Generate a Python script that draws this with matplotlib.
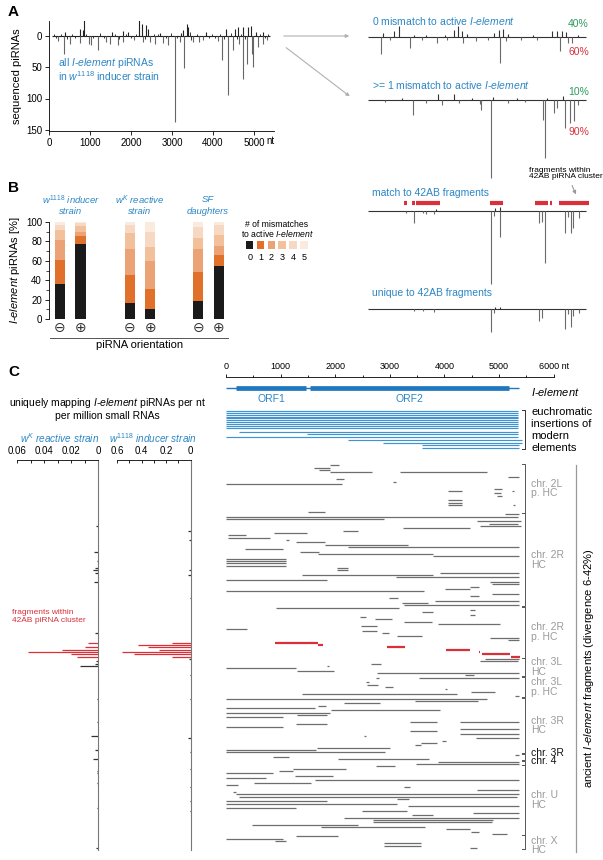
import matplotlib
matplotlib.use('Agg')
import matplotlib.pyplot as plt
import numpy as np
from matplotlib.lines import Line2D
from matplotlib.patches import FancyArrowPatch, Rectangle

plt.rcParams['font.family'] = ['Liberation Sans', 'DejaVu Sans']
plt.rcParams['mathtext.fontset'] = 'custom'
plt.rcParams['mathtext.rm'] = 'Liberation Sans'
plt.rcParams['mathtext.it'] = 'Liberation Sans:italic'
plt.rcParams['mathtext.bf'] = 'Liberation Sans:bold'

# ---------------- DATA ----------------
# Panel A, all I-element piRNAs (w1118): sense (up) / antisense (down)
A_sense_pos = [390, 756, 830, 854, 1527, 1794, 1927, 2195, 2260, 2366, 2415, 2703, 3230, 3268, 3358, 3390, 3840, 4326, 4537, 4610, 4732, 4853, 4919, 5049, 5219]
A_sense_val = [7, 11, 10, 26, 7, 8, 7, 25, 20, 18, 12, 5, 5, 10, 20, 15, 7, 12, 12, 15, 15, 14, 16, 7, 7]
A_anti_pos = [227, 366, 511, 750, 982, 1024, 1187, 1390, 1488, 1688, 1805, 2073, 2293, 2463, 2585, 2773, 2911, 3073, 3190, 3301, 3512, 3660, 3756, 4123, 4211, 4366, 4480, 4634, 4724, 4829, 4943, 4984, 5098, 5211, 5309]
A_anti_val = [8, 28, 12, 11, 12, 14, 23, 9, 12, 15, 9, 7, 9, 9, 12, 11, 14, 138, 10, 51, 9, 10, 6, 8, 38, 95, 22, 12, 68, 44, 28, 50, 17, 12, 7]
A_small_pos = [120, 180, 300, 450, 560, 640, 900, 1080, 1250, 1330, 1600, 1700, 1880, 2000, 2120, 2330, 2550, 2650, 2850, 2980, 3130, 3430, 3470, 3600, 3900, 3980, 4050, 4180, 4280, 4430, 4580, 4680, 4790, 5150, 5260, 5350]
A_small_val = [3, -3, 4, -4, 3, -3, 4, -3, 5, -3, 4, -4, 3, -3, 3, -4, 3, 4, -3, 5, -3, 6, -6, 4, -3, 3, -3, 4, -4, 5, -5, 4, -4, 3, -3, 3]

# Panel A, right tracks
T1_sense_pos = [447, 715, 829, 1200, 1500, 1950, 2170, 2276, 2374, 2500, 3150, 3268, 3358, 3500, 4100, 4553, 4675, 4797, 4902, 5200]
T1_sense_val = [6, 9, 18, 4, 4, 3, 11, 18, 10, 5, 6, 12, 13, 5, 3, 9, 9, 9, 8, 3]
T1_anti_pos = [382, 600, 1098, 1400, 1764, 2000, 2398, 2700, 3000, 3293, 3450, 3800, 4200, 4756, 4960, 5040]
T1_anti_val = [27, 5, 18, 4, 9, 5, 10, 6, 5, 42, 6, 4, 5, 23, 10, 9]
T2_sense_pos = [900, 1789, 2179, 2600, 3114, 3700, 4431, 4838]
T2_sense_val = [3, 9, 9, 3, 5, 3, 4, 6]
T2_anti_pos = [500, 1171, 1500, 1870, 2300, 2795, 2835, 3073, 3500, 3900, 4340, 4398, 4600, 4680, 4870, 4990, 5098, 5200]
T2_anti_val = [3, 24, 4, 8, 5, 6, 16, 125, 4, 3, 32, 93, 20, 12, 45, 37, 34, 8]
T3_red_start = [950, 1140, 1240, 3050, 4150, 4510, 4740]
T3_red_end = [1020, 1210, 1830, 3360, 4470, 4550, 5470]
T3_sense_pos = [1740, 3180, 3293]
T3_sense_val = [3, 5, 6]
T3_anti_pos = [1000, 1195, 1407, 1500, 1691, 3073, 3150, 3293, 4236, 4325, 4398, 4878, 4950, 5016, 5082, 5228]
T3_anti_val = [3, 20, 4, 5, 6, 117, 8, 42, 19, 18, 84, 35, 10, 35, 28, 12]
T4_sense_pos = [3180, 3293]
T4_sense_val = [3, 4]
T4_anti_pos = [1195, 1407, 1691, 3073, 3150, 4236, 4325, 4878, 4950, 5016, 5082, 5228]
T4_anti_val = [3, 3, 4, 37, 6, 19, 14, 32, 8, 28, 10, 6]

# Panel B: % of piRNAs by number of mismatches (bars: w1118 -, +, wK -, +, SF -, +)
mm0 = [36.4, 77.7, 17.0, 10.3, 18.6, 55.0]
mm1 = [24.1, 8.3, 28.7, 20.3, 29.9, 11.0]
mm2 = [21.3, 4.0, 26.3, 29.2, 23.5, 9.0]
mm3 = [10.2, 6.0, 16.7, 14.8, 12.0, 11.6]
mm4 = [5.0, 3.0, 7.9, 14.7, 11.0, 10.4]
mm5 = [3.0, 1.0, 3.4, 10.7, 5.0, 3.0]
B_pos = [0, 1, 3.4, 4.4, 6.75, 7.75]
B_orient = ['\u2296', '\u2295', '\u2296', '\u2295', '\u2296', '\u2295']

# Panel C, left: uniquely mapping piRNAs per row
wK_rows = [26, 37, 41, 44, 45, 46, 50, 72, 84, 85, 86, 100, 110, 116, 122, 126, 131, 132, 136, 147, 164]
wK_vals = [0.0017, 0.003, 0.001, 0.0025, 0.0037, 0.0025, 0.003, 0.0025, 0.0012, 0.002, 0.0136, 0.001, 0.001, 0.005, 0.002, 0.0037, 0.001, 0.001, 0.001, 0.001, 0.0015]
wK_red_rows = [76, 78, 79, 80, 81, 82]
wK_red_vals = [0.0074, 0.0099, 0.027, 0.052, 0.02, 0.0156]
w1118_rows = [28, 32, 45, 47, 57, 83, 90, 100, 117, 123, 130, 138, 144, 148]
w1118_vals = [0.019, 0.01, 0.01, 0.02, 0.008, 0.01, 0.008, 0.008, 0.02, 0.008, 0.008, 0.008, 0.008, 0.008]
w1118_red_rows = [76, 77, 78, 79, 80, 81, 82]
w1118_red_vals = [0.149, 0.43, 0.343, 0.254, 0.56, 0.46, 0.154]

# Panel C, right: I-element model
elem_len = 5370
orf_start = [190, 1540]
orf_end = [1470, 5180]
orf_names = ['ORF1', 'ORF2']
# euchromatic insertions
eu_rows = [-23.3, -22.6, -21.7, -20.9, -20.1, -19.3, -18.4, -17.6, -16.9, -16.0, -14.4, -13.3, -12.1, -10.7, -9.7, -8.7, -7.6]
eu_start = [0, 0, 0, 0, 0, 0, 0, 0, 0, 0, 238, 1483, 0, 2234, 2875, 3590, 3590]
eu_end = [5348, 5348, 5348, 5348, 5348, 5348, 5348, 5348, 5348, 5348, 5348, 5348, 5348, 5415, 5415, 5360, 5360]
# ancient fragments
frag_row = [0, 1, 2, 3, 3, 5, 6, 7, 8, 10, 11, 11, 12, 13, 15, 16, 17, 17, 20, 21, 22, 23, 24, 25, 26, 27, 28, 29, 30, 31,
            32, 33, 34, 35, 36, 37, 38, 39, 40, 41, 42, 43, 44, 45, 46, 47, 48, 49, 50, 51, 52, 53, 54, 55, 56, 57, 58, 59, 60, 61,
            62, 63, 64, 65, 66, 67, 68, 69, 70, 71, 72, 73, 74, 75, 83, 84, 85, 86, 87, 88, 89, 90, 91, 91, 93, 94, 95, 96, 97, 98,
            99, 100, 101, 102, 103, 104, 105, 106, 107, 108, 110, 110, 111, 112, 113, 114, 115, 116, 117, 118, 119, 120, 121, 122, 123, 124, 125, 126, 127, 128,
            129, 130, 131, 132, 133, 134, 135, 136, 137, 138, 139, 140, 141, 142, 143, 144, 145, 146, 147, 148, 149, 150, 151, 152, 153, 154, 155, 156, 157, 158,
            159, 160, 161, 162, 163, 164]
frag_start = [1900, 1616, 1707, 1902, 3183, 5165, 2006, 3061, 0, 4909, 4067, 5230, 4909, 4970, 4067, 4067, 4067, 5250, 1494, 5116, 0, 0, 4598, 4811, 4659, 3244, 2140, 884, 30, 30,
              1091, 1280, 1811, 2238, 348, 1354, 1689, 3793, 0, 0, 0, 0, 2037, 2037, 3915, 1396, 3122, 0, 4829, 4872, 4463, 4018, 0, 4872, 4463, 2988, 3835, 3232, 3262, 915,
              4463, 3598, 4463, 2463, 2738, 3262, 3884, 2470, 0, 2482, 2848, 3134, 4829, 5165, 4750, 4659, 2652, 1841, 0, 1293, 2768, 4384, 2750, 3530, 2573, 2591, 2921, 4006, 4482, 1384,
              5287, 0, 3457, 2165, 1689, 0, 1914, 0, 1293, 0, 3366, 4280, 1280, 0, 4280, 3366, 4280, 2524, 4585, 3963, 3579, 3457, 1659, 0, 0, 5287, 866, 2043, 3890, 3475,
              2744, 1220, 976, 0, 1262, 0, 1628, 518, 0, 3262, 4598, 134, 177, 238, 3140, 0, 0, 3335, 0, 2494, 4524, 3415, 2159, 2695, 2695, 470, 1738, 4024, 4482, 4872,
              1280, 0, 896, 2896, 2896, 4463]
frag_end = [2066, 1902, 1902, 2677, 4787, 5360, 2159, 3110, 2128, 5055, 4323, 5280, 5040, 5055, 4323, 4323, 4323, 5290, 1811, 5360, 5348, 2890, 5396, 5348, 5396, 4463, 2420, 1476, 366, 805,
            1152, 1811, 3335, 5360, 1037, 1701, 3793, 5360, 1091, 1091, 1091, 1091, 2226, 2226, 5360, 3793, 5366, 1841, 5366, 5366, 4634, 4476, 3628, 5366, 4634, 3152, 5366, 3701, 5360, 3171,
            4567, 3793, 4567, 2573, 3049, 3780, 5024, 2768, 390, 2768, 2988, 3591, 5366, 5366, 5360, 5348, 2835, 1890, 1280, 1982, 5360, 4543, 2800, 5360, 2622, 2787, 3061, 4049, 4933, 4232,
            5360, 4787, 4616, 2817, 1829, 1628, 3927, 1902, 1841, 1049, 3866, 5360, 1841, 1049, 5360, 3860, 5360, 2561, 5360, 4030, 3872, 3579, 3000, 1646, 2909, 5360, 1152, 3720, 5360, 5360,
            3091, 2189, 1232, 866, 1963, 726, 5360, 1555, 213, 3378, 5360, 177, 5360, 5336, 3354, 1841, 3140, 5360, 1280, 3317, 5360, 3793, 5360, 4890, 4872, 2421, 3640, 4476, 4628, 5146,
            2043, 1049, 1091, 3567, 3567, 4604]
red_row = [76, 77, 78, 79, 80, 81, 82]
red_start = [896, 1689, 2957, 4024, 4634, 4689, 5213]
red_end = [1677, 1768, 3274, 4463, 4659, 5195, 5390]
chr_labels = ['chr. 2L\np. HC', 'chr. 2R\nHC', 'chr. 2R\np. HC', 'chr. 3L\nHC', 'chr. 3L\np. HC', 'chr. 3R\nHC', 'chr. 3R', 'chr. 4', 'chr. U\nHC', 'chr. X\nHC']
chr_first = [0, 21, 61, 83, 91, 100, 124, 127, 129, 159]
chr_last = [20, 60, 82, 90, 99, 123, 126, 128, 158, 164]
chr_dark = [False, False, False, False, False, False, True, True, False, False]

# ---------------- STYLE ----------------
BLUE = '#2b86c5'
DBLUE = '#1f77bf'
EBLUE = '#3d93d3'
GREEN = '#2f9a5e'
RED = '#d9303a'
GRAY = '#6e6e6e'
W, H = 603, 860
fig = plt.figure(figsize=(W / 100, H / 100), dpi=100)


def axp(x0, y0, x1, y1):
    return fig.add_axes([x0 / W, 1 - y1 / H, (x1 - x0) / W, (y1 - y0) / H])


def txt(x, y, s, **kw):
    kw.setdefault('fontsize', 7.5)
    kw.setdefault('va', 'center')
    return fig.text(x / W, 1 - y / H, s, **kw)


def fline(x0, y0, x1, y1, **kw):
    fig.add_artist(Line2D([x0 / W, x1 / W], [1 - y0 / H, 1 - y1 / H], transform=fig.transFigure, **kw))


def farrow(x0, y0, x1, y1, color='#b0b0b0'):
    fig.add_artist(FancyArrowPatch((x0 / W, 1 - y0 / H), (x1 / W, 1 - y1 / H), transform=fig.transFigure,
                                   arrowstyle='-|>', mutation_scale=5, color=color, lw=0.8))


IEL = r'$\mathit{I}$-$\mathit{element}$'

# ---------------- PANEL A ----------------
txt(8, 12, 'A', fontsize=11, fontweight='bold')
axA = axp(49, 21, 274, 131)
axA.set_xlim(0, 5488)
axA.set_ylim(152, -24)
axA.hlines(0, 70, 5400, color='#222222', lw=0.8)
axA.vlines(A_small_pos, 0, np.array(A_small_val) * -1, color='#333333', lw=0.7)
axA.vlines(A_sense_pos, 0, -np.array(A_sense_val), color='#222222', lw=0.8)
axA.vlines(A_anti_pos, 0, A_anti_val, color='#666666', lw=0.8)
for s in ['top', 'right']:
    axA.spines[s].set_visible(False)
for s in ['left', 'bottom']:
    axA.spines[s].set_linewidth(0.6)
axA.set_yticks([0, 50, 100, 150])
axA.set_xticks([0, 1000, 2000, 3000, 4000, 5000])
axA.set_xticklabels(['0', '1000', '2000', '3000', '4000', '5000'])
axA.tick_params(labelsize=7, length=3, width=0.6, pad=2)
axA.set_ylabel('sequenced piRNAs', fontsize=8, labelpad=3)
txt(266, 141, 'nt', fontsize=7)
txt(58, 63, 'all ' + IEL + ' piRNAs', color=BLUE)
txt(58, 76, r'in $\mathit{w}^{\mathit{1118}}$ inducer strain', color=BLUE)

farrow(281, 36, 352, 36)
farrow(284, 46, 352, 98)


def track(base, top, bottom, sp, sv, ap, av, dark='#333333', light='#6a6a6a'):
    ax = axp(365, top, 365 + 225, bottom)
    ax.set_xlim(0, 5488)
    ax.set_ylim((bottom - base) * 1.6, (top - base) * 1.6)
    ax.axis('off')
    ax.hlines(0, 70, 5400, color='#333333', lw=0.8)
    ax.vlines(sp, 0, -np.array(sv), color=dark, lw=0.8)
    ax.vlines(ap, 0, av, color=light, lw=0.8)
    return ax


track(37, 18, 72, T1_sense_pos, T1_sense_val, T1_anti_pos, T1_anti_val)
txt(372, 21, '0 mismatch to active ' + IEL, color=BLUE)
txt(589, 24, '40%', color=GREEN, ha='right')
txt(589, 52, '60%', color=RED, ha='right')

track(100, 82, 182, T2_sense_pos, T2_sense_val, T2_anti_pos, T2_anti_val)
txt(372, 85, '>= 1 mismatch to active ' + IEL, color=BLUE)
txt(589, 92, '10%', color=GREEN, ha='right')
txt(589, 132, '90%', color=RED, ha='right')

ax3 = track(210.7, 196, 290, T3_sense_pos, T3_sense_val, T3_anti_pos, T3_anti_val)
ax3.hlines([-12.3] * len(T3_red_start), T3_red_start, T3_red_end, color=RED, lw=3.0)
txt(372, 193, 'match to 42AB fragments', color=BLUE)
txt(529, 170, 'fragments within', fontsize=6)
txt(529, 177, '42AB piRNA cluster', fontsize=6)
farrow(571, 183, 577, 197, color='#999999')

track(309.3, 296, 340, T4_sense_pos, T4_sense_val, T4_anti_pos, T4_anti_val)
txt(372, 293, 'unique to 42AB fragments', color=BLUE)

# ---------------- PANEL B ----------------
txt(8, 188, 'B', fontsize=11, fontweight='bold')
axB = axp(49, 222, 230, 319)
mm_colors = ['#1a1a1a', '#e0702a', '#eba375', '#f2c19c', '#f7d9c3', '#fbebdf']
bottom = np.zeros(6)
for vals, c in zip([mm0, mm1, mm2, mm3, mm4, mm5], mm_colors):
    axB.bar(B_pos, vals, bottom=bottom, width=0.5, color=c, linewidth=0)
    bottom += np.array(vals)
axB.set_xlim(-0.54, 8.3)
axB.set_ylim(0, 100)
for s in ['top', 'right', 'bottom']:
    axB.spines[s].set_visible(False)
axB.spines['left'].set_linewidth(0.6)
axB.set_xticks([])
axB.set_yticks([0, 20, 40, 60, 80, 100])
axB.set_yticks([10, 30, 50, 70, 90], minor=True)
axB.tick_params(labelsize=7, length=3, width=0.6, pad=2)
axB.tick_params(which='minor', length=2, width=0.5)
axB.set_ylabel(IEL + ' piRNAs [%]', fontsize=8, labelpad=3)
for p, o in zip(B_pos, B_orient):
    axB.text(p, -9.5, o, ha='center', va='center', fontsize=10, family='DejaVu Sans', color='#333333')
fline(50, 338, 228, 338, color='#555555', lw=0.7)
txt(140, 345, 'piRNA orientation', fontsize=8, ha='center')
grp = [(71, r'$w^{1118}$ inducer', 'strain'), (140, r'$w^{K}$ reactive', 'strain'), (208, 'SF', 'daughters')]
for x, l1, l2 in grp:
    txt(x, 200, l1, color=BLUE, ha='center', style='italic', fontsize=6.8)
    txt(x, 212, l2, color=BLUE, ha='center', style='italic', fontsize=6.8)
# legend
txt(277, 224.5, '# of mismatches', fontsize=6.2, ha='center')
txt(277, 233.5, 'to active ' + IEL, fontsize=6.2, ha='center')
for i, c in enumerate(mm_colors):
    x0 = 246 + i * 10.8
    fig.add_artist(Rectangle((x0 / W, 1 - 249 / H), 7.5 / W, 8 / H, transform=fig.transFigure,
                             facecolor=c, edgecolor='none'))
    txt(x0 + 3.7, 258, str(i), fontsize=6.5, ha='center')

# ---------------- PANEL C ----------------
txt(8, 372, 'C', fontsize=11, fontweight='bold')
txt(107, 403, 'uniquely mapping ' + IEL + ' piRNAs per nt', fontsize=7.5, ha='center')
txt(107, 416, 'per million small RNAs', fontsize=7.5, ha='center')
txt(60, 438, r'$w^{K}$ reactive strain', color=BLUE, ha='center', style='italic', fontsize=7.2)
txt(153, 438, r'$w^{1118}$ inducer strain', color=BLUE, ha='center', style='italic', fontsize=7.2)


def r_of(py):
    return (3 * py - 1396) / 7.0


def left_ax(x0, x1, xmax, rows, vals, rrows, rvals, major, minor, labels):
    ax = axp(x0, 460, x1, 850)
    ax.set_xlim(xmax, 0)
    ax.set_ylim(r_of(850), r_of(460))
    ax.hlines(rows, 0, vals, color='#333333', lw=0.9)
    ax.hlines(rrows, 0, rvals, color=RED, lw=0.9)
    for s in ['left', 'bottom']:
        ax.spines[s].set_visible(False)
    ax.spines['right'].set_color('#777777')
    ax.spines['right'].set_linewidth(0.8)
    ax.spines['top'].set_linewidth(0.6)
    ax.xaxis.tick_top()
    ax.set_xticks(major)
    ax.set_xticklabels(labels)
    ax.set_xticks(minor, minor=True)
    ax.set_yticks([])
    ax.tick_params(axis='x', which='both', direction='in', labelsize=7, length=2.5, width=0.6, pad=3)
    ax.tick_params(axis='x', which='minor', length=1.8)
    return ax


left_ax(17, 98, 0.06, wK_rows, wK_vals, wK_red_rows, wK_red_vals,
        [0.06, 0.04, 0.02, 0], [0.05, 0.03, 0.01], ['0.06', '0.04', '0.02', '0'])
left_ax(117, 190.5, 0.6, w1118_rows, w1118_vals, w1118_red_rows, w1118_red_vals,
        [0.6, 0.4, 0.2, 0], [0.5, 0.3, 0.1], ['0.6', '0.4', '0.2', '0'])
txt(12, 613, 'fragments within', fontsize=6, color=RED)
txt(12, 620, '42AB piRNA cluster', fontsize=6, color=RED)

axC = axp(226, 377, 553.6, 852)
axC.set_xlim(0, 6000)
axC.set_ylim(r_of(852), r_of(377))
for s in ['left', 'bottom', 'right']:
    axC.spines[s].set_visible(False)
axC.spines['top'].set_linewidth(0.6)
axC.xaxis.tick_top()
axC.set_xticks([0, 1000, 2000, 3000, 4000, 5000, 6000])
axC.set_xticklabels(['0', '1000', '2000', '3000', '4000', '5000', '6000 nt'])
axC.set_xticks([500, 1500, 2500, 3500, 4500, 5500], minor=True)
axC.set_yticks([])
axC.tick_params(axis='x', which='both', labelsize=6.5, length=2.5, width=0.6, pad=1.5)
axC.tick_params(axis='x', which='minor', length=1.5)

# gene model
rg = r_of(388)
axC.hlines(rg, 0, elem_len, color=DBLUE, lw=1.0)
axC.hlines([rg, rg], orf_start, orf_end, color=DBLUE, lw=3.4)
for s, e, n in zip(orf_start, orf_end, orf_names):
    axC.text((s + e) / 2, r_of(398.5), n, color=BLUE, fontsize=7.5, ha='center', va='center')
axC.text(5586, r_of(392), r'$\mathit{I}$-$\mathit{element}$', fontsize=8, va='center', clip_on=False)

# euchromatic insertions
axC.hlines(eu_rows, eu_start, eu_end, color=EBLUE, lw=0.85)

# ancient fragments
axC.hlines(frag_row, frag_start, frag_end, color=GRAY, lw=0.9)
axC.hlines(red_row, red_start, red_end, color=RED, lw=1.6)

# brackets
XB = 5476


def bracket(r0, r1, color='#555555'):
    axC.plot([XB - 55, XB, XB, XB - 55], [r0, r0, r1, r1], color=color, lw=0.7, clip_on=False)


bracket(-23.9, -7.1, '#333333')
for i, l in enumerate(['euchromatic', 'insertions of', 'modern', 'elements']):
    txt(531, 412 + i * 12, l, fontsize=8)
label_py = {'chr. 3R': 752.5, 'chr. 4': 761.5}
for lab, a, b, dk in zip(chr_labels, chr_first, chr_last, chr_dark):
    bracket(a - 0.4, b + 0.4)
    if lab in label_py:
        yc = r_of(label_py[lab])
    else:
        yc = (a + b) / 2 + (1.5 if lab.startswith('chr. X') else 0)
    axC.text(5586, yc, lab, fontsize=7.5, va='center', ha='left',
             color='#111111' if dk else '#9a9a9a', clip_on=False, linespacing=0.95)
axC.plot([6410, 6410], [r_of(465), r_of(852)], color='#999999', lw=0.9, clip_on=False)
axC.text(6640, r_of(668), 'ancient ' + IEL + ' fragments (divergence 6-42%)', rotation=90, fontsize=8,
         va='center', ha='center', clip_on=False)

fig.savefig('out.png', dpi=100)
